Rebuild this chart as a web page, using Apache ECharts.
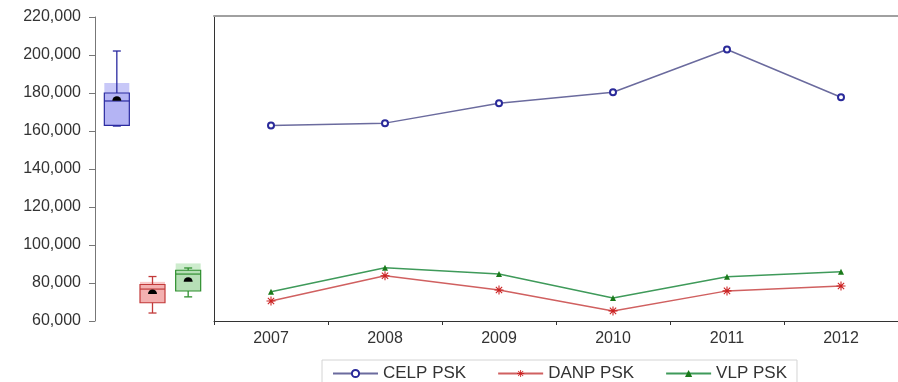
<!DOCTYPE html>
<html>
<head>
<meta charset="utf-8">
<script src="https://cdn.jsdelivr.net/npm/echarts@6/dist/echarts.min.js"></script>
<style>
html,body{margin:0;padding:0;background:#fff;}
#c{width:898px;height:382px;}
</style>
</head>
<body>
<div id="c"></div>
<script>
// ---- data ----
const years = ['2007', '2008', '2009', '2010', '2011', '2012'];
const seriesNames = ['CELP PSK', 'DANP PSK', 'VLP PSK'];
const celp = [162600, 163800, 174200, 180000, 202400, 177400];
const danp = [70500, 83700, 76300, 65300, 75800, 78400];
const vlp = [75300, 87900, 84700, 72100, 83200, 85800];
// box plot: [min, Q1, median, Q3, max]
const boxStats = [
  [162600, 163000, 175800, 180000, 202100],
  [64200, 69600, 76800, 79200, 83400],
  [72700, 75800, 84700, 86700, 87900]
];
// top of the shaded band behind each box
const boxShadeTop = [185300, 80600, 90300];
const boxMeans = [176700, 75000, 81500];
const yMin = 60000, yMax = 220000, yStep = 20000;

// ---- styles ----
const FONT = 'Liberation Sans, Arial, sans-serif';
const lineColors = ['#6b6b9e', '#d06060', '#3f9a5a'];
const markColors = ['#2a2a9a', '#cc2222', '#1a7a1a'];
const boxBorder = ['#2a2aa0', '#c23a3a', '#2f8f2f'];
const boxFill = ['#b4b4f4', '#f3b0b0', '#b6dfb6'];
const shadeFill = ['#c8c8f8', '#f8c8c8', '#cdeccd'];
const star = 'path://M-0.6,-5 L0.6,-5 L0.6,5 L-0.6,5 Z M-5,-0.6 L5,-0.6 L5,0.6 L-5,0.6 Z M-3.08,-3.92 L3.92,3.08 L3.08,3.92 L-3.92,-3.08 Z M3.08,-3.92 L3.92,-3.08 L-3.08,3.92 L-3.92,3.08 Z';

const chart = echarts.init(document.getElementById('c'), null, {renderer: 'canvas'});
const fmt = v => v.toLocaleString('en-US');

const boxData = boxStats.map((s, i) => [i, s[0], s[1], s[2], s[3], s[4], boxShadeTop[i], boxMeans[i]]);

function renderBox(params, api) {
  const i = api.value(0);
  const x = api.coord([i, 0])[0];
  const y = k => api.coord([i, api.value(k)])[1];
  const yMinP = y(1), yQ1 = y(2), yMed = y(3), yQ3 = y(4), yMaxP = y(5), yShade = y(6), yMean = y(7);
  const w = 25, hw = w / 2, cap = 4;
  const bc = boxBorder[i];
  return {
    type: 'group',
    children: [
      {type: 'rect', shape: {x: x - hw, y: yShade, width: w, height: yQ1 - yShade},
       style: {fill: shadeFill[i], stroke: null}},
      {type: 'rect', shape: {x: x - hw, y: yQ3, width: w, height: yQ1 - yQ3},
       style: {fill: boxFill[i], stroke: bc, lineWidth: 1.2}},
      {type: 'line', shape: {x1: x - hw, y1: yMed, x2: x + hw, y2: yMed},
       style: {stroke: bc, lineWidth: 1.2}},
      {type: 'line', shape: {x1: x, y1: yQ3, x2: x, y2: yMaxP}, style: {stroke: bc, lineWidth: 1.3}},
      {type: 'line', shape: {x1: x - cap, y1: yMaxP, x2: x + cap, y2: yMaxP}, style: {stroke: bc, lineWidth: 1.3}},
      {type: 'line', shape: {x1: x, y1: yQ1, x2: x, y2: yMinP}, style: {stroke: bc, lineWidth: 1.3}},
      {type: 'line', shape: {x1: x - cap, y1: yMinP, x2: x + cap, y2: yMinP}, style: {stroke: bc, lineWidth: 1.3}},
      {type: 'sector', shape: {cx: x, cy: yMean + 1.5, r0: 0, r: 4.5, startAngle: Math.PI, endAngle: 2 * Math.PI},
       style: {fill: '#000'}}
    ]
  };
}

const option = {
  animation: false,
  textStyle: {fontFamily: FONT},
  grid: [
    {left: 214, top: 16, width: 691, height: 305},
    {left: 99, top: 17, width: 107, height: 304}
  ],
  legend: {
    data: seriesNames,
    left: 322, top: 360,
    itemWidth: 45, itemHeight: 9, itemGap: 31,
    borderColor: '#d4d4d4', borderWidth: 1,
    padding: [5, 10],
    textStyle: {fontSize: 17, color: '#333', fontFamily: FONT}
  },
  xAxis: [
    {gridIndex: 0, type: 'category', data: years, boundaryGap: true,
     axisLine: {lineStyle: {color: '#333', width: 1}},
     axisTick: {show: true, length: 4, lineStyle: {color: '#333'}},
     axisLabel: {fontSize: 16, color: '#333', margin: 10, fontFamily: FONT},
     splitLine: {show: false}},
    {gridIndex: 0, type: 'category', data: years, position: 'top',
     axisLine: {lineStyle: {color: '#a0a0a0', width: 2}},
     axisTick: {show: false}, axisLabel: {show: false}, splitLine: {show: false}},
    {gridIndex: 1, type: 'category', data: seriesNames, show: false}
  ],
  yAxis: [
    {gridIndex: 0, type: 'value', min: yMin, max: yMax, interval: yStep,
     axisLine: {show: true, lineStyle: {color: '#333', width: 1}},
     axisTick: {show: false}, axisLabel: {show: false}, splitLine: {show: false}},
    {gridIndex: 1, type: 'value', min: yMin, max: yMax, interval: yStep, offset: 4,
     axisLine: {show: true, lineStyle: {color: '#777', width: 1}},
     axisTick: {show: true, length: 6, lineStyle: {color: '#777'}},
     axisLabel: {fontSize: 16, color: '#333', margin: 14, formatter: fmt, fontFamily: FONT},
     splitLine: {show: false}}
  ],
  series: [
    {type: 'custom', name: 'box', xAxisIndex: 2, yAxisIndex: 1, silent: true,
     renderItem: renderBox,
     dimensions: ['cat', 'min', 'q1', 'med', 'q3', 'max', 'shade', 'mean'],
     encode: {x: 0, y: [1, 2, 3, 4, 5, 6, 7]},
     data: boxData},
    {type: 'line', name: seriesNames[0], xAxisIndex: 0, yAxisIndex: 0, data: celp,
     symbol: 'emptyCircle', symbolSize: 6,
     lineStyle: {color: lineColors[0], width: 1.5},
     itemStyle: {color: markColors[0], borderColor: markColors[0], borderWidth: 1.3}},
    {type: 'line', name: seriesNames[1], xAxisIndex: 0, yAxisIndex: 0, data: danp,
     symbol: star, symbolSize: 9,
     lineStyle: {color: lineColors[1], width: 1.5},
     itemStyle: {color: markColors[1]}},
    {type: 'line', name: seriesNames[2], xAxisIndex: 0, yAxisIndex: 0, data: vlp,
     symbol: 'triangle', symbolSize: 6,
     lineStyle: {color: lineColors[2], width: 1.5},
     itemStyle: {color: markColors[2]}}
  ]
};
chart.setOption(option);
</script>
</body>
</html>
